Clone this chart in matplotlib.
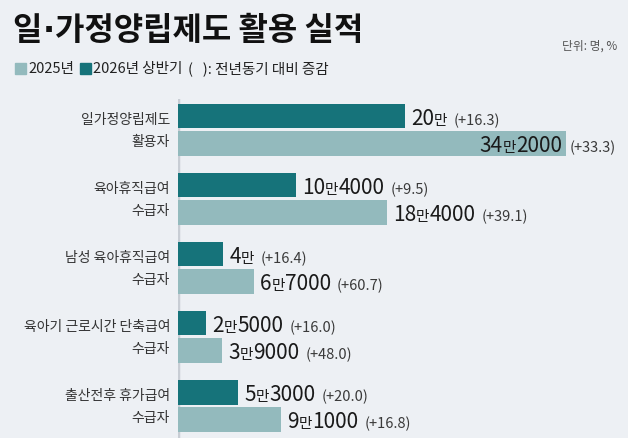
import numpy as np
import matplotlib.pyplot as plt
from matplotlib.patches import Rectangle

plt.rcParams['font.family'] = ['Noto Sans CJK KR', 'DejaVu Sans']

categories = [
    ("일가정양립제도", "활용자"),
    ("육아휴직급여", "수급자"),
    ("남성 육아휴직급여", "수급자"),
    ("육아기 근로시간 단축급여", "수급자"),
    ("출산전후 휴가급여", "수급자"),
]
h1_2026 = [200000, 104000, 40000, 25000, 53000]
y_2025 = [342000, 184000, 67000, 39000, 91000]
chg_2026 = [16.3, 9.5, 16.4, 16.0, 20.0]
chg_2025 = [33.3, 39.1, 60.7, 48.0, 16.8]

BG = '#edf0f4'
DARK = '#16737a'
LIGHT = '#93babd'
W, H = 628, 439

fig = plt.figure(figsize=(W / 100, H / 100), dpi=100, facecolor=BG)
ax = fig.add_axes([178 / W, 0, (W - 178) / W, 339 / H])
ax.set_facecolor(BG)

n = len(categories)
pos = np.arange(n)
off = 0.196
bh = 0.355
ax.barh(pos - off, np.array(h1_2026) / 1e4, height=bh, color=DARK)
ax.barh(pos + off, np.array(y_2025) / 1e4, height=bh, color=LIGHT)
ax.set_xlim(0, 39.65)
ax.set_ylim(4.467, -0.446)
ax.axvline(0, color='#c8cdd4', lw=2.5, zorder=0)
for s in ax.spines.values():
    s.set_visible(False)
ax.set_xticks([])
ax.set_yticks([])

# category labels, two lines each
for i, (l1, l2) in enumerate(categories):
    ax.text(-0.7, i - 0.16, l1, ha='right', va='center', fontsize=10, color='#333333')
    ax.text(-0.7, i + 0.16, l2, ha='right', va='center', fontsize=10, color='#333333')

fig.canvas.draw()
r = fig.canvas.get_renderer()


def chain(x, y, parts, va='baseline'):
    arts = []
    for s, fs, fw, col, gap, fam in parts:
        x += gap
        t = fig.text(x / W, y / H, s, fontsize=fs, fontweight=fw, color=col,
                     va=va, ha='left', family=fam)
        x += t.get_window_extent(r).width
        arts.append(t)
    return arts, x


CJK = ['Noto Sans CJK KR', 'DejaVu Sans']


def value_parts(v):
    man, rest = divmod(v, 10000)
    parts = [(str(man), 15, 'medium', '#1a1a1a', 0, CJK),
             ("만", 10.5, 'normal', '#1a1a1a', 0, CJK)]
    if rest:
        parts.append((str(rest), 15, 'medium', '#1a1a1a', 0, CJK))
    return parts


for vals, chg, sign in [(h1_2026, chg_2026, -1), (y_2025, chg_2025, 1)]:
    for i, (v, c) in enumerate(zip(vals, chg)):
        xd, yd = ax.transData.transform((v / 1e4, i + sign * off))
        base = yd - 7.5
        arts, xe = chain(xd + 6, base, value_parts(v))
        if xe > W - 50:
            shift = (xd - 4) - xe
            for t in arts:
                t.set_x(t.get_position()[0] + shift / W)
            xs = xd + 3
        else:
            xs = xe + 6
        chain(xs, base, [(f"(+{c:.1f})", 10.5, 'normal', '#3a3a3a', 0, CJK)])

# title, unit, legend
ty = H - 31
chain(12, ty, [("일", 23, 'bold', '#111111', 0, CJK),
               ("·", 23, 'bold', '#111111', 1, ['DejaVu Sans']),
               ("가정양립제도 활용 실적", 23, 'bold', '#111111', 1, CJK)], va='center')
fig.text(617 / W, 1 - 46 / H, "단위: 명, %", fontsize=8.5, color='#555555',
         va='center', ha='right')

ly = 1 - 69 / H
fig.patches.append(Rectangle((15 / W, ly - 5.5 / H), 11 / W, 11 / H, color=LIGHT,
                             transform=fig.transFigure))
fig.text(28 / W, ly, "2025년", fontsize=10.5, color='#222222', va='center', ha='left')
fig.patches.append(Rectangle((80 / W, ly - 5.5 / H), 11 / W, 11 / H, color=DARK,
                             transform=fig.transFigure))
fig.text(93 / W, ly, "2026년 상반기", fontsize=10.5, color='#222222', va='center', ha='left')
fig.text(188 / W, ly, "(   ): 전년동기 대비 증감", fontsize=10.5, color='#222222',
         va='center', ha='left')

fig.savefig('out.png', dpi=100, facecolor=BG)
